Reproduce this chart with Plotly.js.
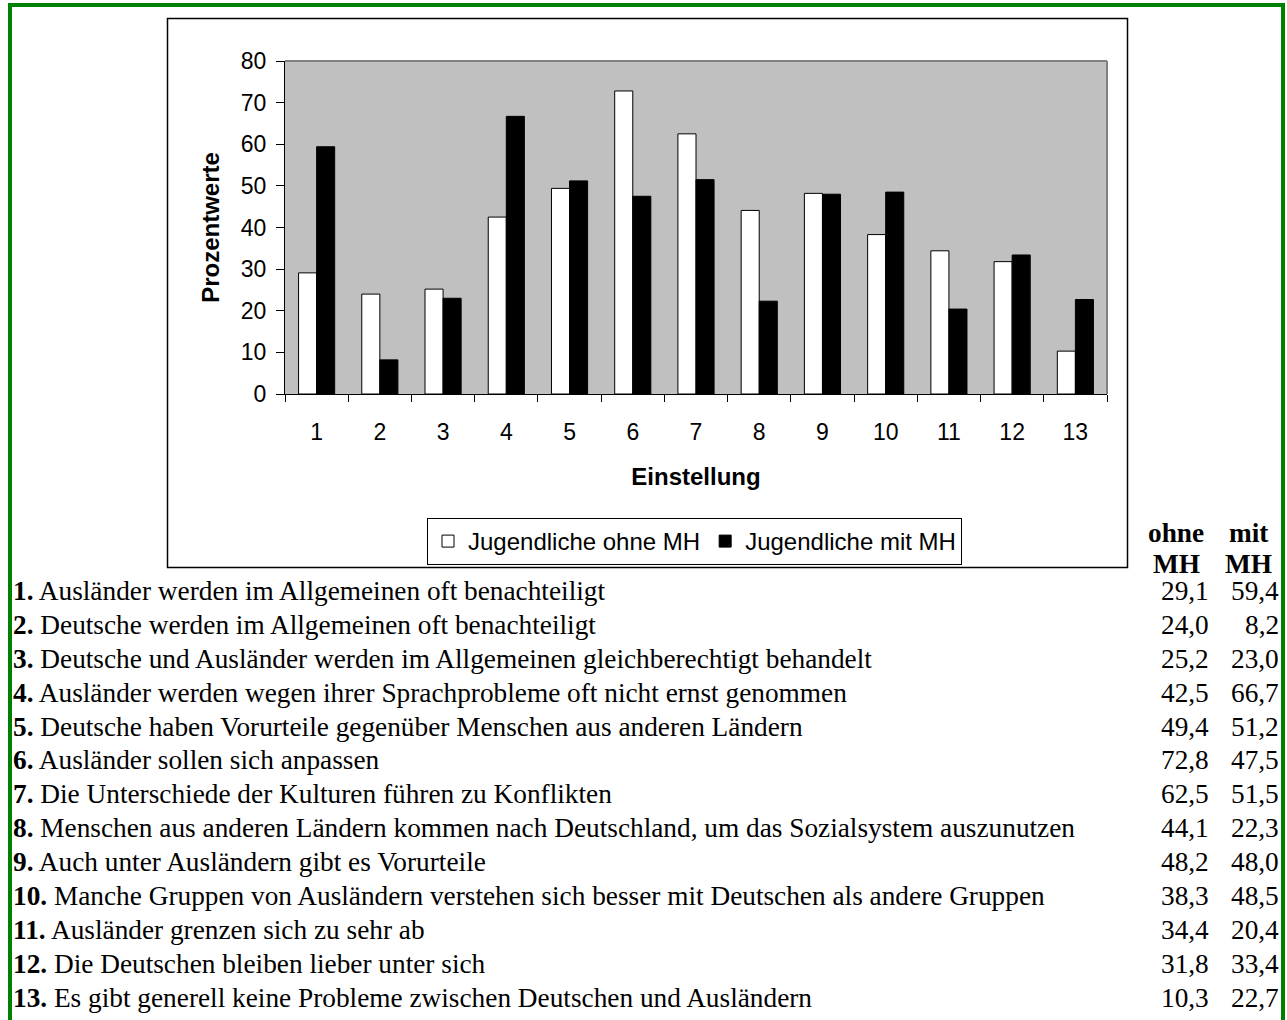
<!DOCTYPE html>
<html>
<head>
<meta charset="utf-8">
<script src="https://cdn.plot.ly/plotly-3.0.1.min.js"></script>
<style>
  html, body { margin: 0; padding: 0; background: #ffffff; }
  #chart { width: 1287px; height: 1020px; }
</style>
</head>
<body>
<div id="chart"></div>
<script>
// ---- data ----
const categories = ["1","2","3","4","5","6","7","8","9","10","11","12","13"];
const ohneMH = [29.1, 24.0, 25.2, 42.5, 49.4, 72.8, 62.5, 44.1, 48.2, 38.3, 34.4, 31.8, 10.3];
const mitMH  = [59.4, 8.2, 23.0, 66.7, 51.2, 47.5, 51.5, 22.3, 48.0, 48.5, 20.4, 33.4, 22.7];
const seriesNames = ["Jugendliche ohne MH", "Jugendliche mit MH"];
const statements = [
  "Ausländer werden im Allgemeinen oft benachteiligt",
  "Deutsche werden im Allgemeinen oft benachteiligt",
  "Deutsche und Ausländer werden im Allgemeinen gleichberechtigt behandelt",
  "Ausländer werden wegen ihrer Sprachprobleme oft nicht ernst genommen",
  "Deutsche haben Vorurteile gegenüber Menschen aus anderen Ländern",
  "Ausländer sollen sich anpassen",
  "Die Unterschiede der Kulturen führen zu Konflikten",
  "Menschen aus anderen Ländern kommen nach Deutschland, um das Sozialsystem auszunutzen",
  "Auch unter Ausländern gibt es Vorurteile",
  "Manche Gruppen von Ausländern verstehen sich besser mit Deutschen als andere Gruppen",
  "Ausländer grenzen sich zu sehr ab",
  "Die Deutschen bleiben lieber unter sich",
  "Es gibt generell keine Probleme zwischen Deutschen und Ausländern"
];
const yTitle = "Prozentwerte";
const xTitle = "Einstellung";
const colHeaders = [["ohne", "MH"], ["mit", "MH"]];

// ---- geometry helpers (pixel -> paper) ----
const W = 1287, H = 1020;
const L = 285, R = 1107, T = 61, B = 394;
const px = v => (v - L) / (R - L);
const py = v => (B - v) / (B - T);

const SANS = "Liberation Sans, Arial, sans-serif";
const SERIF = "Liberation Serif, Times New Roman, serif";
const TS = 27.3;
const fmt = v => v.toFixed(1).replace(".", ",");

const traces = [
  { type: "bar", name: seriesNames[0], x: categories, y: ohneMH,
    marker: { color: "#ffffff", line: { color: "#000000", width: 1 } } },
  { type: "bar", name: seriesNames[1], x: categories, y: mitMH,
    marker: { color: "#000000", line: { color: "#000000", width: 1 } } }
];

const annotations = [];
const rowStep = 33.9;
statements.forEach((s, i) => {
  const cy = 591 + i * rowStep;
  annotations.push({ xref: "paper", yref: "paper", x: px(11), y: py(cy),
    xanchor: "left", yanchor: "middle", showarrow: false,
    text: "<b>" + categories[i] + ".</b> " + s,
    font: { family: SERIF, size: TS, color: "#000000" } });
  annotations.push({ xref: "paper", yref: "paper", x: px(1211), y: py(cy),
    xanchor: "right", yanchor: "middle", showarrow: false,
    text: fmt(ohneMH[i]), font: { family: SERIF, size: TS, color: "#000000" } });
  annotations.push({ xref: "paper", yref: "paper", x: px(1281), y: py(cy),
    xanchor: "right", yanchor: "middle", showarrow: false,
    text: fmt(mitMH[i]), font: { family: SERIF, size: TS, color: "#000000" } });
});
const headerX = [1176, 1248];
colHeaders.forEach((h, j) => {
  annotations.push({ xref: "paper", yref: "paper", x: px(headerX[j]), y: py(533),
    xanchor: "center", yanchor: "middle", showarrow: false,
    text: "<b>" + h[0] + "</b>", font: { family: SERIF, size: TS, color: "#000000" } });
  annotations.push({ xref: "paper", yref: "paper", x: px(headerX[j]), y: py(564),
    xanchor: "center", yanchor: "middle", showarrow: false,
    text: "<b>" + h[1] + "</b>", font: { family: SERIF, size: TS, color: "#000000" } });
});

const shapes = [
  // green outer frame
  { type: "rect", xref: "paper", yref: "paper", x0: px(10), x1: px(1283), y0: py(5), y1: py(1040),
    line: { color: "#008000", width: 4 }, fillcolor: "rgba(0,0,0,0)", layer: "above" },
  // chart box
  { type: "rect", xref: "paper", yref: "paper", x0: px(167.5), x1: px(1127.5), y0: py(18.5), y1: py(567.5),
    line: { color: "#000000", width: 1.5 }, fillcolor: "rgba(0,0,0,0)", layer: "below" },
  // plot area border (top, right)
  { type: "line", xref: "paper", yref: "paper", x0: 0, x1: 1, y0: 1, y1: 1,
    line: { color: "#808080", width: 2 }, layer: "below" },
  { type: "line", xref: "paper", yref: "paper", x0: 1, x1: 1, y0: 0, y1: 1,
    line: { color: "#808080", width: 2 }, layer: "below" }
];

const layout = {
  width: W, height: H,
  margin: { l: L, r: W - R, t: T, b: H - B, pad: 0 },
  paper_bgcolor: "#ffffff",
  plot_bgcolor: "#c0c0c0",
  barmode: "group",
  bargap: 0.4286,
  bargroupgap: 0,
  showlegend: true,
  legend: {
    orientation: "h", x: px(694.5), xanchor: "center", y: py(518), yanchor: "top",
    bordercolor: "#000000", borderwidth: 1, bgcolor: "#ffffff",
    font: { family: SANS, size: 24, color: "#000000" },
    traceorder: "normal"
  },
  xaxis: {
    type: "category",
    tickson: "boundaries",
    ticks: "outside", ticklen: 7, tickcolor: "#000000", tickwidth: 1,
    showline: true, linecolor: "#000000", linewidth: 1,
    showgrid: false, zeroline: false,
    tickfont: { family: SANS, size: 23, color: "#000000" },
    ticklabelstandoff: 17,
    title: { text: "<b>" + xTitle + "</b>", font: { family: SANS, size: 24, color: "#000000" }, standoff: 24 }
  },
  yaxis: {
    range: [0, 80], dtick: 10, tick0: 0,
    ticks: "outside", ticklen: 8, tickcolor: "#000000", tickwidth: 1,
    showline: true, linecolor: "#000000", linewidth: 1,
    showgrid: false, zeroline: false,
    tickfont: { family: SANS, size: 23, color: "#000000" },
    ticklabelstandoff: 5,
    title: { text: "<b>" + yTitle + "</b>", font: { family: SANS, size: 24, color: "#000000" }, standoff: 14 }
  },
  annotations: annotations,
  shapes: shapes
};

Plotly.newPlot("chart", traces, layout, { displayModeBar: false, staticPlot: true });
</script>
</body>
</html>
